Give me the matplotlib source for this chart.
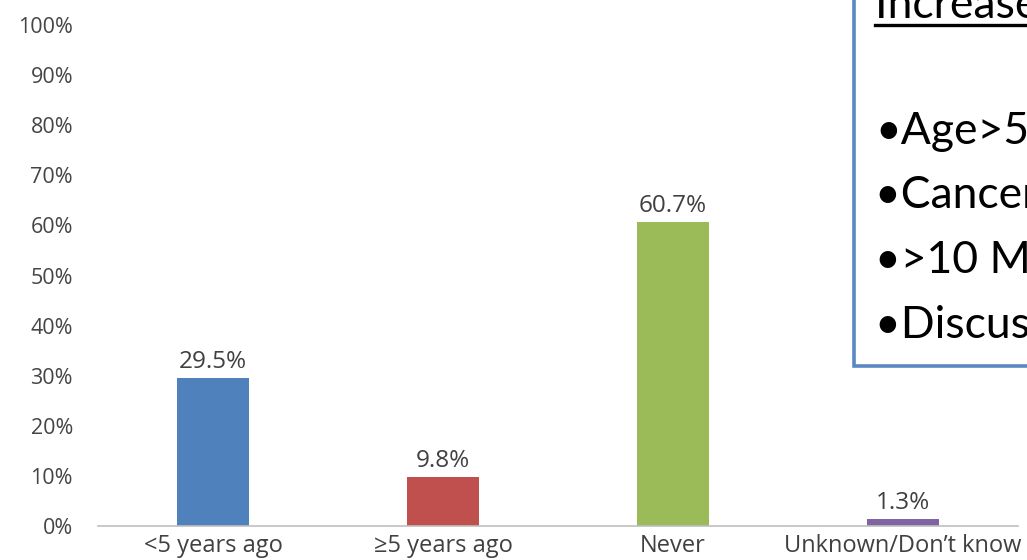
import matplotlib
matplotlib.use("Agg")
import matplotlib.pyplot as plt
from matplotlib.patches import Rectangle
from matplotlib.lines import Line2D

categories = ["<5 years ago", "\u22655 years ago", "Never", "Unknown/Don\u2019t know"]
values = [29.5, 9.8, 60.7, 1.3]
colors = ["#4F81BD", "#C0504D", "#9BBB59", "#8064A2"]
yticks = [0, 10, 20, 30, 40, 50, 60, 70, 80, 90, 100]
box_title = "Increased likelihood:"
box_items = ["\u2022Age>50", "\u2022Cancer survivor", "\u2022>10 MD visits", "\u2022Discussed with doctor"]

W, H = 1027, 560
fig = plt.figure(figsize=(W/100, H/100), dpi=100)
ax = fig.add_axes([98/W, 1-526/H, 920/W, (526-25)/H])

x = range(len(categories))
ax.bar(x, values, width=0.313, color=colors, zorder=2)
ax.set_xlim(-0.5, len(categories)-0.5)
ax.set_ylim(0, 100)
ax.set_yticks(yticks)
ax.set_yticklabels([f"{t}%" for t in yticks], fontsize=15.5, color="#454545", family="Open Sans")
ax.set_xticks(list(x))
ax.set_xticklabels(categories, fontsize=17, color="#404040", family="Open Sans")
ax.tick_params(axis="y", length=0, pad=18)
ax.tick_params(axis="x", length=0, pad=6)
for s in ["top", "right", "left"]:
    ax.spines[s].set_visible(False)
ax.spines["bottom"].set_color("#BFBFBF")
ax.spines["bottom"].set_linewidth(1.2)

for i, v in enumerate(values):
    ax.text(i, v + 2.0, f"{v}%", ha="center", va="baseline", fontsize=17.5, color="#404040", family="Open Sans")

# text box (clipped by figure edge, as in the reference)
bx, by = 854/W, 1-366/H
fig.patches.append(Rectangle((bx, by), 1.0, 1.0, transform=fig.transFigure,
                             facecolor="white", edgecolor="#5A88C4", linewidth=2.6, zorder=5))
fig.text(875/W, 1-18/H, box_title, fontsize=32, family="Lato", color="black", va="baseline", ha="left", zorder=6)
fig.lines.append(Line2D([875/W, 1.0], [1-25/H, 1-25/H], transform=fig.transFigure, color="black", linewidth=2.4, zorder=6))
for k, item in enumerate(box_items):
    yb = 144 + k*64.5
    fig.text(875/W, 1-yb/H, item, fontsize=32, family="Lato", color="black", va="baseline", ha="left", zorder=6)

fig.savefig("out.png", dpi=100)
